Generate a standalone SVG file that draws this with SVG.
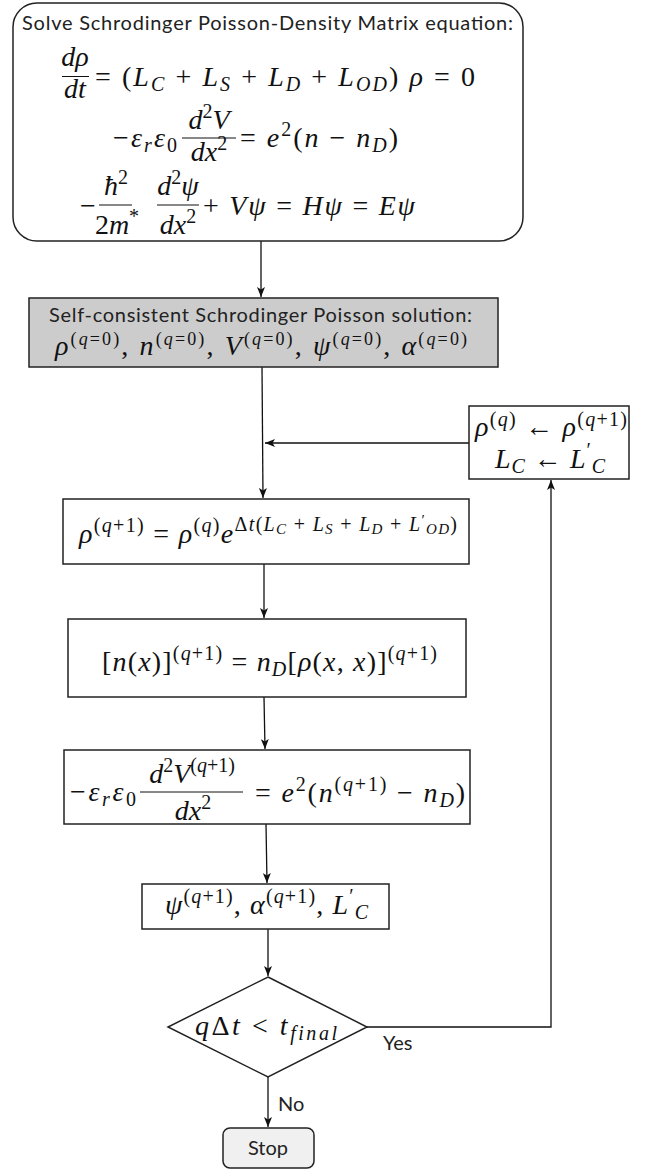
<svg xmlns="http://www.w3.org/2000/svg" width="654" height="1170" viewBox="0 0 654 1170">
<style>
.box{fill:#fff;stroke:#222;stroke-width:1.5}
.gray{fill:#cccccc;stroke:#222;stroke-width:1.5}
.stop{fill:#f0f0f0;stroke:#222;stroke-width:1.5}
.bar{stroke:#111;stroke-width:1}
.con{fill:none;stroke:#111;stroke-width:1.3}
.m{font-family:"Liberation Serif",serif;font-size:28px;fill:#111}
.i{font-style:italic}
.sp{font-size:20px}
.ss{font-size:15px}
.t{font-family:Lato,"Noto Sans",sans-serif;font-size:20px;fill:#222}
</style>
<defs>
<marker id="ah" markerUnits="userSpaceOnUse" markerWidth="10" markerHeight="8" refX="10" refY="4" orient="auto">
<path d="M0,0 L10,4 L0,8 L2.5,4 z" fill="#111"/>
</marker>
</defs>

<g id="connectors">
<line class="con" x1="261" y1="241" x2="261" y2="297" marker-end="url(#ah)"/>
<line class="con" x1="262" y1="367" x2="263" y2="498" marker-end="url(#ah)"/>
<line class="con" x1="469" y1="443" x2="265" y2="443" marker-end="url(#ah)"/>
<line class="con" x1="264" y1="564" x2="264" y2="618" marker-end="url(#ah)"/>
<line class="con" x1="264" y1="697" x2="265" y2="749" marker-end="url(#ah)"/>
<line class="con" x1="266" y1="824" x2="267" y2="883" marker-end="url(#ah)"/>
<line class="con" x1="268" y1="929" x2="268" y2="976" marker-end="url(#ah)"/>
<line class="con" x1="268" y1="1077" x2="268" y2="1127" marker-end="url(#ah)"/>
<polyline class="con" points="367,1027 551,1027 551,480" marker-end="url(#ah)"/>
<text class="t" x="383" y="1050" font-size="19">Yes</text>
<text class="t" x="278" y="1111" font-size="19">No</text>
</g>

<g id="start">
<rect class="box" x="13" y="3" width="510" height="238" rx="24"/>
<text class="t" x="22" y="30" textLength="491" lengthAdjust="spacing">Solve Schrodinger Poisson-Density Matrix equation:</text>
<text class="m i" x="75" y="66" text-anchor="middle">dρ</text>
<line class="bar" x1="62" y1="76.5" x2="89" y2="76.5"/>
<text class="m i" x="75" y="98" text-anchor="middle">dt</text>
<text class="m" x="95" y="86" textLength="380" lengthAdjust="spacing">= (<tspan class="i">L</tspan><tspan class="sp i" dy="5">C</tspan><tspan dy="-5"> + </tspan><tspan class="i">L</tspan><tspan class="sp i" dy="5">S</tspan><tspan dy="-5"> + </tspan><tspan class="i">L</tspan><tspan class="sp i" dy="5">D</tspan><tspan dy="-5"> + </tspan><tspan class="i">L</tspan><tspan class="sp i" dy="5">OD</tspan><tspan dy="-5">) </tspan><tspan class="i">ρ</tspan> = 0</text>

<text class="m" x="113" y="147" textLength="64" lengthAdjust="spacing">−<tspan class="i">ε</tspan><tspan class="sp i" dy="5">r</tspan><tspan class="i" dy="-5">ε</tspan><tspan class="sp" dy="5">0</tspan></text>
<text class="m" x="209" y="129" text-anchor="middle"><tspan class="i">d</tspan><tspan class="sp" dy="-11">2</tspan><tspan class="i" dy="11">V</tspan></text>
<line class="bar" x1="182" y1="138" x2="236" y2="138"/>
<text class="m" x="209" y="161" text-anchor="middle"><tspan class="i">dx</tspan><tspan class="sp" dy="-11">2</tspan></text>
<text class="m" x="240" y="147" textLength="158" lengthAdjust="spacing">= <tspan class="i">e</tspan><tspan class="sp" dy="-11">2</tspan><tspan dy="11">(</tspan><tspan class="i">n</tspan> − <tspan class="i">n</tspan><tspan class="sp i" dy="5">D</tspan><tspan dy="-5">)</tspan></text>

<text class="m" x="80" y="215">−</text>
<text class="m" x="116" y="195" text-anchor="middle"><tspan class="i">ħ</tspan><tspan class="sp" dy="-11">2</tspan></text>
<line class="bar" x1="99" y1="205" x2="132" y2="205"/>
<text class="m" x="117" y="234" text-anchor="middle">2<tspan class="i">m</tspan><tspan class="sp" dy="-11">*</tspan></text>
<text class="m" x="178" y="195" text-anchor="middle"><tspan class="i">d</tspan><tspan class="sp" dy="-11">2</tspan><tspan class="i" dy="11">ψ</tspan></text>
<line class="bar" x1="157" y1="205" x2="199" y2="205"/>
<text class="m" x="178" y="234" text-anchor="middle"><tspan class="i">dx</tspan><tspan class="sp" dy="-11">2</tspan></text>
<text class="m" x="203" y="215" textLength="212" lengthAdjust="spacing">+ <tspan class="i">Vψ</tspan> = <tspan class="i">Hψ</tspan> = <tspan class="i">Eψ</tspan></text>
</g>

<g id="init">
<rect class="gray" x="29" y="298" width="469" height="69"/>
<text class="t" x="49" y="322" font-size="18" textLength="423" lengthAdjust="spacing">Self-consistent Schrodinger Poisson solution:</text>
<text class="m" x="55" y="355" font-size="27" textLength="412" lengthAdjust="spacing"><tspan class="i">ρ</tspan><tspan font-size="18" dy="-10">(<tspan class="i">q</tspan>=0)</tspan><tspan dy="10">, </tspan><tspan class="i">n</tspan><tspan font-size="18" dy="-10">(<tspan class="i">q</tspan>=0)</tspan><tspan dy="10">, </tspan><tspan class="i">V</tspan><tspan font-size="18" dy="-10">(<tspan class="i">q</tspan>=0)</tspan><tspan dy="10">, </tspan><tspan class="i">ψ</tspan><tspan font-size="18" dy="-10">(<tspan class="i">q</tspan>=0)</tspan><tspan dy="10">, </tspan><tspan class="i">α</tspan><tspan font-size="18" dy="-10">(<tspan class="i">q</tspan>=0)</tspan></text>
</g>

<g id="update">
<rect class="box" x="469" y="406" width="160" height="73"/>
<text class="m" x="475" y="436" font-size="26" textLength="152" lengthAdjust="spacing"><tspan class="i">ρ</tspan><tspan class="sp" dy="-10">(<tspan class="i">q</tspan>)</tspan><tspan dy="10"> ← </tspan><tspan class="i">ρ</tspan><tspan class="sp" dy="-10">(<tspan class="i">q</tspan>+1)</tspan></text>
<text class="m" x="495" y="468" font-size="26" textLength="110" lengthAdjust="spacing"><tspan class="i">L</tspan><tspan class="sp i" dy="5">C</tspan><tspan dy="-5"> ← </tspan><tspan class="i">L</tspan><tspan class="sp" dy="-11">′</tspan><tspan class="sp i" dy="16">C</tspan></text>
</g>

<g id="evolve">
<rect class="box" x="63" y="499" width="406" height="65"/>
<text class="m" x="79" y="543" textLength="378" lengthAdjust="spacing"><tspan class="i">ρ</tspan><tspan class="sp" dy="-11">(<tspan class="i">q</tspan>+1)</tspan><tspan dy="11"> = </tspan><tspan class="i">ρ</tspan><tspan class="sp" dy="-11">(<tspan class="i">q</tspan>)</tspan><tspan class="i" dy="11">e</tspan><tspan class="sp" dy="-12">Δ<tspan class="i">t</tspan>(<tspan class="i">L</tspan><tspan class="ss i" dy="3">C</tspan><tspan dy="-3"> + </tspan><tspan class="i">L</tspan><tspan class="ss i" dy="3">S</tspan><tspan dy="-3"> + </tspan><tspan class="i">L</tspan><tspan class="ss i" dy="3">D</tspan><tspan dy="-3"> + </tspan><tspan class="i">L</tspan><tspan class="ss" dy="-6">′</tspan><tspan class="ss i" dy="9">OD</tspan><tspan dy="-3">)</tspan></tspan></text>
</g>

<g id="density">
<rect class="box" x="68" y="619" width="398" height="78"/>
<text class="m" x="102" y="671" textLength="335" lengthAdjust="spacing">[<tspan class="i">n</tspan>(<tspan class="i">x</tspan>)]<tspan class="sp" dy="-11">(<tspan class="i">q</tspan>+1)</tspan><tspan dy="11"> = </tspan><tspan class="i">n</tspan><tspan class="sp i" dy="5">D</tspan><tspan dy="-5">[</tspan><tspan class="i">ρ</tspan>(<tspan class="i">x</tspan>, <tspan class="i">x</tspan>)]<tspan class="sp" dy="-11">(<tspan class="i">q</tspan>+1)</tspan></text>
</g>

<g id="poisson">
<rect class="box" x="64" y="750" width="406" height="74"/>
<text class="m" x="70" y="801" textLength="66" lengthAdjust="spacing">−<tspan class="i">ε</tspan><tspan class="sp i" dy="5">r</tspan><tspan class="i" dy="-5">ε</tspan><tspan class="sp" dy="5">0</tspan></text>
<text class="m" x="192" y="783" text-anchor="middle"><tspan class="i">d</tspan><tspan class="sp" dy="-11">2</tspan><tspan class="i" dy="11">V</tspan><tspan class="sp" dy="-11">(<tspan class="i">q</tspan>+1)</tspan></text>
<line class="bar" x1="140" y1="792" x2="243" y2="792"/>
<text class="m" x="193" y="820" text-anchor="middle"><tspan class="i">dx</tspan><tspan class="sp" dy="-11">2</tspan></text>
<text class="m" x="255" y="802" textLength="210" lengthAdjust="spacing">= <tspan class="i">e</tspan><tspan class="sp" dy="-11">2</tspan><tspan dy="11">(</tspan><tspan class="i">n</tspan><tspan class="sp" dy="-11">(<tspan class="i">q</tspan>+1)</tspan><tspan dy="11"> − </tspan><tspan class="i">n</tspan><tspan class="sp i" dy="5">D</tspan><tspan dy="-5">)</tspan></text>
</g>

<g id="wave">
<rect class="box" x="142" y="884" width="247" height="45"/>
<text class="m" x="165" y="914" textLength="203" lengthAdjust="spacing"><tspan class="i">ψ</tspan><tspan class="sp" dy="-11">(<tspan class="i">q</tspan>+1)</tspan><tspan dy="11">, </tspan><tspan class="i">α</tspan><tspan class="sp" dy="-11">(<tspan class="i">q</tspan>+1)</tspan><tspan dy="11">, </tspan><tspan class="i">L</tspan><tspan class="sp" dy="-11">′</tspan><tspan class="sp i" dy="16">C</tspan></text>
</g>

<g id="decision">
<polygon class="box" points="268,977 367,1027 268,1077 168,1027"/>
<text class="m" x="195" y="1035" textLength="142" lengthAdjust="spacing"><tspan class="i">q</tspan>Δ<tspan class="i">t</tspan> &lt; <tspan class="i">t</tspan><tspan class="sp i" dy="5">final</tspan></text>
</g>

<g id="stop">
<rect class="stop" x="223" y="1128" width="91" height="40" rx="7"/>
<text class="t" x="268" y="1155" font-size="19" text-anchor="middle">Stop</text>
</g>
</svg>
